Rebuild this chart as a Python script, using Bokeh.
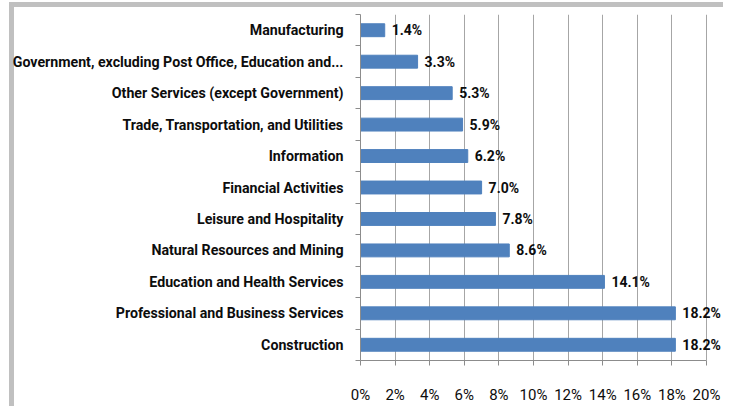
from bokeh.plotting import figure
from bokeh.models import (Range1d, FixedTicker, PrintfTickFormatter, ColumnDataSource, LabelSet)
from bokeh.core.properties import value
from bokeh.embed import file_html
from bokeh.resources import INLINE

categories = [
    "Manufacturing",
    "Government, excluding Post Office, Education and...",
    "Other Services (except Government)",
    "Trade, Transportation, and Utilities",
    "Information",
    "Financial Activities",
    "Leisure and Hospitality",
    "Natural Resources and Mining",
    "Education and Health Services",
    "Professional and Business Services",
    "Construction",
]
shares = [1.4, 3.3, 5.3, 5.9, 6.2, 7.0, 7.8, 8.6, 14.1, 18.2, 18.2]
x_ticks = [0, 2, 4, 6, 8, 10, 12, 14, 16, 18, 20]

n = len(categories)
pos = [n - 1 - i for i in range(n)]
labels = ["%.1f%%" % s for s in shares]
src = ColumnDataSource(dict(y=pos, x=shares, lab=labels, cat=categories))

FONT = "Roboto"
INK = "#0d0d0d"
AXIS = "#8c8c8c"
BAND = "#c0c0c0"

# figure geometry in pixels
W, H = 723, 406
FL, FT, FB = 360, 14, 369
X_MAX = x_ticks[-1]
PX_PER_UNIT = (706 - FL) / X_MAX
x_end = (W - FL) / PX_PER_UNIT   # frame runs to the right edge so value labels are not clipped

p = figure(width=W, height=H, output_backend="svg", toolbar_location=None,
           x_range=Range1d(0, x_end), y_range=Range1d(-0.5, n - 0.5),
           min_border_left=FL, min_border_right=0, min_border_top=FT,
           min_border_bottom=H - FB,
           styles={"background":
                   f"linear-gradient({BAND}, {BAND}) 9px 2px / calc(100% - 9px) 5px no-repeat, "
                   f"linear-gradient({BAND}, {BAND}) 9px 2px / 5px calc(100% - 2px) no-repeat, white"})
p.outline_line_color = None
p.background_fill_color = "white"
p.border_fill_color = None

p.hbar(y="y", left=0, right="x", height=0.41, source=src, fill_color="#4F81BD",
       line_color="#4F81BD")
p.add_layout(LabelSet(x="x", y="y", text="lab", source=src, x_offset=7, y_offset=0,
                      text_baseline="middle", text_align="left", text_font=value(FONT),
                      text_font_size="14px", text_font_style="bold", text_color=INK))

# x axis
p.xaxis.ticker = FixedTicker(ticks=x_ticks)
p.xaxis.bounds = (0, X_MAX)
p.xaxis.formatter = PrintfTickFormatter(format="%d%%")
p.xaxis.major_tick_out = 5
p.xaxis.major_tick_in = 0
p.xaxis.minor_tick_line_color = None
p.xaxis.axis_line_color = AXIS
p.xaxis.major_tick_line_color = AXIS
p.xaxis.major_label_text_font = FONT
p.xaxis.major_label_text_font_size = "15px"
p.xaxis.major_label_text_color = INK
p.xaxis.major_label_standoff = 20

# y axis
p.yaxis.ticker = FixedTicker(ticks=pos, minor_ticks=[k - 0.5 for k in range(n + 1)])
p.yaxis.major_label_overrides = {pv: c for pv, c in zip(pos, categories)}
p.yaxis.major_tick_out = 0
p.yaxis.major_tick_in = 0
p.yaxis.minor_tick_out = 5
p.yaxis.minor_tick_in = 0
p.yaxis.axis_line_color = AXIS
p.yaxis.minor_tick_line_color = AXIS
p.yaxis.major_label_text_font = FONT
p.yaxis.major_label_text_font_size = "14.2px"
p.yaxis.major_label_text_font_style = "bold"
p.yaxis.major_label_text_color = INK
p.yaxis.major_label_standoff = 12

p.xgrid.grid_line_color = "#a6a6a6"
p.xgrid.bounds = (0, X_MAX)
p.ygrid.grid_line_color = None

open("out.html", "w").write(file_html(p, INLINE))
